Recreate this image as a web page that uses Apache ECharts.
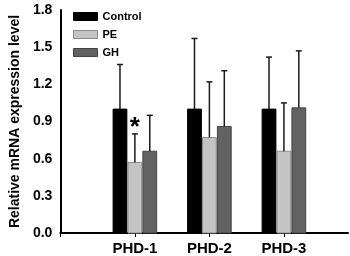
<!DOCTYPE html>
<html>
<head>
<meta charset="utf-8">
<script src="https://cdn.jsdelivr.net/npm/echarts@6/dist/echarts.min.js"></script>
<style>
  html, body { margin: 0; padding: 0; background: #fff; }
  #chart { width: 350px; height: 256px; }
</style>
</head>
<body>
<div id="chart"></div>
<script>
const categories = ["PHD-1", "PHD-2", "PHD-3"];
const seriesNames = ["Control", "PE", "GH"];
const controlMean = [1.0, 1.0, 1.0];
const controlSD = [0.36, 0.57, 0.42];
const peMean = [0.57, 0.77, 0.66];
const peSD = [0.23, 0.45, 0.39];
const ghMean = [0.66, 0.86, 1.01];
const ghSD = [0.29, 0.45, 0.46];
const peSignificant = [true, false, false];
const yTicks = [0.0, 0.3, 0.6, 0.9, 1.2, 1.5, 1.8];

const chart = echarts.init(document.getElementById("chart"), null, { renderer: "canvas" });

const colors = ["#000000", "#c4c4c4", "#626262"];
const borders = ["#000000", "#8a8a8a", "#444444"];
const offsets = [-0.2, 0, 0.2];
const barW = 0.185;

function makeSeries(k, means, sds, sig) {
  return {
    name: seriesNames[k],
    type: "custom",
    data: means.map((m, i) => [i + 1, m, sds[i]]),
    itemStyle: { color: colors[k], borderColor: borders[k] },
    renderItem: (params, api) => {
      const i = params.dataIndex;
      const x = api.value(0) + offsets[k];
      const v = api.value(1);
      const sd = api.value(2);
      const top = api.coord([x, v]);
      const base = api.coord([x, 0]);
      const errTop = api.coord([x, v + sd]);
      const w = api.size([barW, 0])[0];
      const children = [
        {
          type: "rect",
          shape: { x: top[0] - w / 2, y: top[1], width: w, height: base[1] - top[1] },
          style: { fill: colors[k], stroke: borders[k], lineWidth: 1 }
        },
        {
          type: "line",
          shape: { x1: top[0], y1: top[1], x2: errTop[0], y2: errTop[1] },
          style: { stroke: "#1a1a1a", lineWidth: 1.5 }
        },
        {
          type: "line",
          shape: { x1: errTop[0] - 3, y1: errTop[1], x2: errTop[0] + 3, y2: errTop[1] },
          style: { stroke: "#1a1a1a", lineWidth: 1.5 }
        }
      ];
      if (sig && sig[i]) {
        children.push({
          type: "text",
          style: {
            text: "*",
            x: errTop[0],
            y: errTop[1] - 6,
            align: "center",
            verticalAlign: "middle",
            font: "bold 26px 'Liberation Sans', Arial, sans-serif",
            fill: "#000"
          }
        });
      }
      return { type: "group", children: children };
    }
  };
}

const option = {
  backgroundColor: "#fff",
  animation: false,
  grid: { left: 53, right: 2, top: 10, bottom: 23 },
  legend: {
    orient: "vertical",
    left: 68,
    top: 6,
    itemWidth: 24,
    itemHeight: 8,
    itemGap: 7,
    icon: "rect",
    data: seriesNames.map((n, k) => ({
      name: n,
      itemStyle: { color: colors[k], borderColor: borders[k], borderWidth: 1 }
    })),
    textStyle: { fontFamily: "'Liberation Sans', Arial, sans-serif", fontWeight: "bold", fontSize: 11, color: "#000" }
  },
  xAxis: {
    type: "value",
    min: 0,
    max: 3.86,
    interval: 1,
    splitLine: { show: false },
    axisLine: { show: true, lineStyle: { color: "#000", width: 2 } },
    axisTick: { show: true, length: 4, lineStyle: { color: "#000", width: 1 } },
    axisLabel: {
      showMaxLabel: false,
      margin: 8,
      fontFamily: "'Liberation Sans', Arial, sans-serif",
      fontWeight: "bold",
      fontSize: 15,
      color: "#000",
      formatter: (v) => (Number.isInteger(v) && v >= 1 && v <= categories.length ? categories[v - 1] : "")
    }
  },
  yAxis: {
    type: "value",
    min: 0,
    max: 1.8,
    interval: 0.3,
    name: "Relative mRNA expression level",
    nameLocation: "middle",
    nameGap: 37,
    nameTextStyle: { fontFamily: "'Liberation Sans', Arial, sans-serif", fontWeight: "bold", fontSize: 14, color: "#000" },
    splitLine: { show: false },
    axisLine: { show: true, lineStyle: { color: "#000", width: 2 } },
    axisTick: { show: false },
    axisLabel: {
      margin: 8,
      fontFamily: "'Liberation Sans', Arial, sans-serif",
      fontWeight: "bold",
      fontSize: 14,
      color: "#000",
      formatter: (v) => yTicks.find((t) => Math.abs(t - v) < 1e-6).toFixed(1)
    }
  },
  series: [
    makeSeries(0, controlMean, controlSD),
    makeSeries(1, peMean, peSD, peSignificant),
    makeSeries(2, ghMean, ghSD)
  ]
};

chart.setOption(option);
</script>
</body>
</html>
